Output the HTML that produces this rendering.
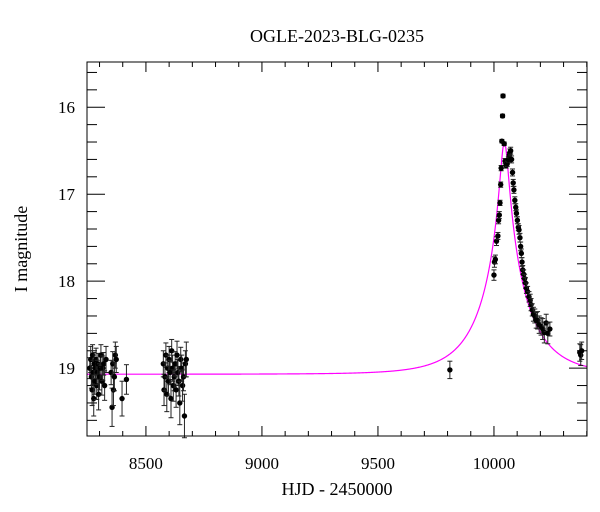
<!DOCTYPE html>
<html><head><meta charset="utf-8">
<style>
html,body{margin:0;padding:0;background:#fff;}
svg{display:block;}
text{font-family:"Liberation Serif",serif;fill:#000;}
</style></head>
<body>
<svg id="chart" width="600" height="512" viewBox="0 0 600 512" xmlns="http://www.w3.org/2000/svg">
<text x="337" y="42" font-size="18" text-anchor="middle">OGLE-2023-BLG-0235</text>
<text x="337" y="495" font-size="18" text-anchor="middle">HJD - 2450000</text>
<text x="27" y="249" font-size="18" text-anchor="middle" transform="rotate(-90 27 249)">I magnitude</text>
<g id="ticks"></g>
<g id="model"></g>
<g id="points"></g>
<rect x="87" y="62" width="500" height="374" fill="none" stroke="#000" stroke-width="1"/>
</svg>
<script>
const xTicks=[8500,9000,9500,10000];
const yTicks=[16,17,18,19];
const hjd=[8258,8262,8265,8268,8270,8272,8275,8277,8280,8283,8285,8288,8290,8293,8296,8300,8303,8306,8310,8314,8318,8322,8328,8350,8354,8357,8360,8364,8368,8372,8397,8416,
8575,8578,8582,8586,8590,8594,8597,8600,8604,8608,8611,8615,8618,8622,8626,8630,8634,8638,8642,8646,8650,8654,8658,8662,8666,8670,8674,
9810,
10000,10002,10006,10011,10017,10020,10023,10026,10029,10031,10034,10037,10039,10044,10048,10052,10057,10062,10066,10069,10072,10076,10080,10083,10086,10090,10094,10097,10101,10105,10108,10112,10115,10118,10121,10124,10128,10132,10136,10140,10145,10151,10156,10160,10165,10170,10176,10182,10188,10195,10203,10210,10217,10225,10232,10241,10370,10374,10378];
const imag=[19.0,18.9,19.1,19.25,18.85,19.05,19.35,18.95,19.15,19.0,18.9,19.2,19.05,18.95,19.3,19.1,19.0,18.85,19.15,19.0,18.95,19.2,18.9,19.05,19.45,18.95,19.25,19.1,18.85,18.9,19.35,19.13,
18.95,19.25,19.1,18.85,19.3,19.0,19.15,18.9,19.05,19.35,18.8,19.0,19.2,19.1,18.95,19.25,18.85,19.05,19.15,19.4,18.9,19.0,19.2,19.1,19.55,18.95,18.9,
19.02,
17.93,17.78,17.75,17.54,17.48,17.3,17.24,17.1,16.89,16.7,16.39,16.1,15.87,16.42,16.62,16.67,16.65,16.6,16.55,16.52,16.5,16.6,16.75,16.87,16.95,17.07,17.15,17.22,17.3,17.38,17.41,17.5,17.6,17.68,17.78,17.87,17.92,17.97,18.02,18.08,18.12,18.18,18.22,18.27,18.33,18.38,18.4,18.45,18.45,18.5,18.52,18.55,18.59,18.48,18.6,18.55,18.82,18.85,18.8];
const errs=[0.12,0.15,0.13,0.18,0.12,0.14,0.2,0.13,0.15,0.12,0.13,0.16,0.14,0.12,0.18,0.15,0.13,0.12,0.16,0.14,0.13,0.17,0.15,0.14,0.22,0.14,0.18,0.16,0.15,0.15,0.2,0.17,
0.15,0.18,0.16,0.14,0.2,0.15,0.17,0.15,0.14,0.22,0.13,0.15,0.18,0.16,0.14,0.2,0.16,0.15,0.17,0.25,0.14,0.15,0.18,0.16,0.25,0.15,0.2,
0.1,
0.06,0.06,0.05,0.05,0.04,0.04,0.04,0.03,0.03,0.03,0.02,0.02,0.02,0.02,0.03,0.03,0.03,0.03,0.03,0.04,0.04,0.04,0.04,0.04,0.04,0.04,0.04,0.04,0.04,0.04,0.05,0.05,0.05,0.05,0.05,0.05,0.05,0.05,0.06,0.06,0.06,0.06,0.07,0.07,0.07,0.08,0.08,0.09,0.1,0.1,0.1,0.12,0.12,0.1,0.12,0.08,0.1,0.12,0.1];
const modelT0=10045, modelTE=200, modelU0=0.086, modelBase=19.07;

const X0=87,X1=587,Y0=62,Y1=436;
const tMin=8246,tMax=10401,mMin=15.48,mMax=19.78;
const sx=t=>X0+(t-tMin)/(tMax-tMin)*(X1-X0);
const sy=m=>Y0+(m-mMin)/(mMax-mMin)*(Y1-Y0);
const NS="http://www.w3.org/2000/svg";
const mk=(tag,attrs,parent)=>{const e=document.createElementNS(NS,tag);for(const k in attrs)e.setAttribute(k,attrs[k]);parent.appendChild(e);return e;};
const svg=document.getElementById('chart');
const tg=document.getElementById('ticks');
for(let t=8300;t<=10400;t+=100){
  const major=xTicks.includes(t);const L=major?10:5;const x=sx(t);
  let a=mk('line',{x1:x,y1:Y1,x2:x,y2:Y1-L,stroke:'#000'},tg);
  
  
  let b=mk('line',{x1:x,y1:Y0,x2:x,y2:Y0+L,stroke:'#000'},tg);
  
  
}
xTicks.forEach(t=>{
  const e=mk('text',{x:sx(t),y:469,'font-size':17,'text-anchor':'middle'},svg);
  e.textContent=t;
  
  
});
for(let i=0;i<=21;i++){
  const m=15.6+i*0.2;if(m>mMax)break;
  const major=yTicks.some(v=>Math.abs(v-m)<1e-6);const L=major?18:10;const y=sy(m);
  let a=mk('line',{x1:X0,y1:y,x2:X0+L,y2:y,stroke:'#000'},tg);
  
  
  let b=mk('line',{x1:X1,y1:y,x2:X1-L,y2:y,stroke:'#000'},tg);
  
  
}
yTicks.forEach(m=>{
  const e=mk('text',{x:75,y:sy(m)+6,'font-size':17,'text-anchor':'end'},svg);
  e.textContent=m;
  
  
});
const mg=document.getElementById('model');
let d='';
for(let px=X0;px<=X1;px+=0.5){
  const t=tMin+(px-X0)/(X1-X0)*(tMax-tMin);
  const tau=(t-modelT0)/modelTE;const u=Math.sqrt(modelU0*modelU0+tau*tau);
  const A=(u*u+2)/(u*Math.sqrt(u*u+4));
  const m=modelBase-2.5*Math.log10(A);
  d+=(d?'L':'M')+px.toFixed(1)+','+sy(m).toFixed(2);
}
const path=mk('path',{d:d,fill:'none',stroke:'#ff00ff','stroke-width':1.2},mg);


const pg=document.getElementById('points');
hjd.forEach((t,i)=>{
  const x=sx(t),y=sy(imag[i]),ya=sy(imag[i]-errs[i]),yb=sy(imag[i]+errs[i]);
  const g=mk('g',{},pg);
  
  
  mk('line',{x1:x,y1:ya,x2:x,y2:yb,stroke:'#222','stroke-width':1},g);
  mk('line',{x1:x-2.5,y1:ya,x2:x+2.5,y2:ya,stroke:'#222','stroke-width':1},g);
  mk('line',{x1:x-2.5,y1:yb,x2:x+2.5,y2:yb,stroke:'#222','stroke-width':1},g);
  mk('circle',{cx:x,cy:y,r:2.7,fill:'#000'},g);
});
</script>
</body></html>
